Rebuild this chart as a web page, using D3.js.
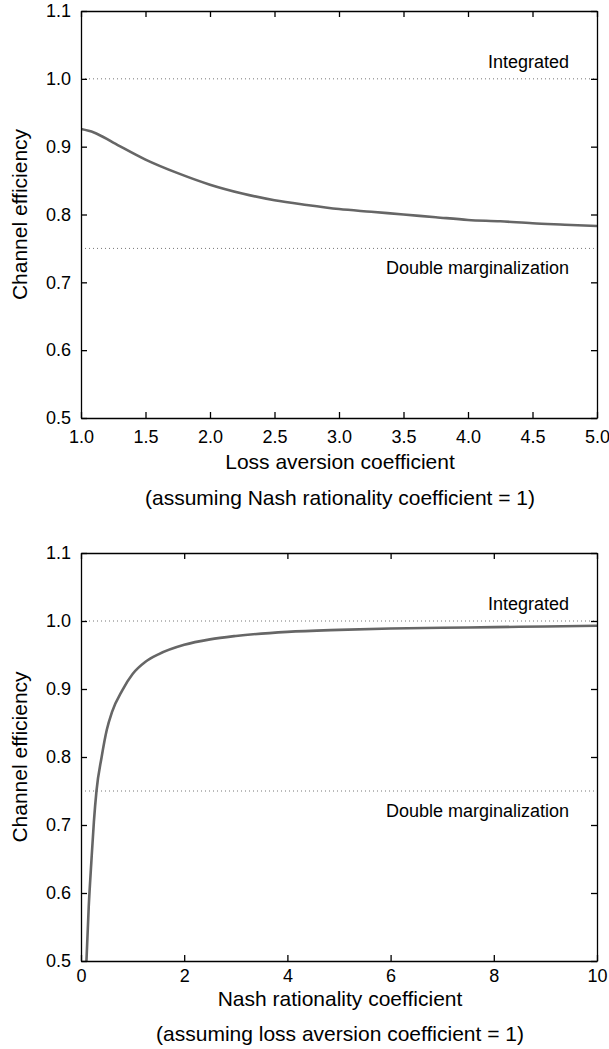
<!DOCTYPE html>
<meta charset="utf-8">
<style>
body { margin: 0; background: #fff; }
svg { display: block; font-family: "Liberation Sans", Arial, sans-serif; }
.tick text { font-size: 18px; fill: #000; }
.domain, .tick line { stroke: #000; stroke-width: 1.3px; }
.curve { fill: none; stroke: #666; stroke-width: 2.6px; }
.ref { stroke: #777; stroke-width: 1px; stroke-dasharray: 1,3; }
.label { font-size: 18px; }
.title { font-size: 21px; }
</style>
<script src="https://cdnjs.cloudflare.com/ajax/libs/d3/7.8.5/d3.min.js"></script>
<body>
<script>
// panel 1: efficiency vs loss aversion coefficient
var lossX = [1.0, 1.1, 1.25, 1.5, 1.75, 2.0, 2.25, 2.5, 2.75, 3.0, 3.25, 3.5, 3.75, 4.0, 4.25, 4.5, 4.75, 5.0];
var lossY = [0.926, 0.921, 0.906, 0.881, 0.861, 0.844, 0.831, 0.821, 0.814, 0.808, 0.804, 0.800, 0.796, 0.792, 0.790, 0.787, 0.785, 0.783];
var lossTicks = [1.0, 1.5, 2.0, 2.5, 3.0, 3.5, 4.0, 4.5, 5.0];

// panel 2: efficiency vs Nash rationality coefficient
var nashX = [0.1, 0.15, 0.2, 0.25, 0.3, 0.4, 0.5, 0.6, 0.8, 1.0, 1.25, 1.5, 2.0, 2.5, 3.0, 4.0, 5.0, 6.0, 7.0, 8.0, 9.0, 10.0];
var nashY = [0.49, 0.58, 0.645, 0.705, 0.75, 0.80, 0.84, 0.866, 0.898, 0.922, 0.94, 0.951, 0.965, 0.973, 0.978, 0.984, 0.987, 0.989, 0.990, 0.991, 0.992, 0.993];
var nashTicks = [0, 2, 4, 6, 8, 10];

var yTicks = [0.5, 0.6, 0.7, 0.8, 0.9, 1.0, 1.1];
var integrated = 1.0, doubleMarg = 0.75;

var W = 609, H = 1049;
var svg = d3.select("body").append("svg").attr("width", W).attr("height", H);

function panel(opt) {
  var left = 81, right = 597;
  var x = d3.scaleLinear().domain(opt.domain).range([left, right]);
  var y = d3.scaleLinear().domain([0.5, 1.1]).range([opt.bottom, opt.top]);
  var g = svg.append("g");

  g.append("clipPath").attr("id", opt.id).append("rect")
    .attr("x", left).attr("y", opt.top).attr("width", right - left).attr("height", opt.bottom - opt.top);

  // reference lines
  [integrated, doubleMarg].forEach(function(v) {
    g.append("line").attr("class", "ref")
      .attr("x1", left).attr("x2", right).attr("y1", y(v)).attr("y2", y(v));
  });
  g.append("text").attr("class", "label").attr("text-anchor", "end")
    .attr("x", 569).attr("y", y(integrated) - 11).text("Integrated");
  g.append("text").attr("class", "label").attr("text-anchor", "end")
    .attr("x", 569).attr("y", y(doubleMarg) + 26).text("Double marginalization");

  // curve
  var pts = opt.xs.map(function(d, i) { return [d, opt.ys[i]]; });
  g.append("path").attr("class", "curve").attr("clip-path", "url(#" + opt.id + ")")
    .attr("d", d3.line().x(function(d) { return x(d[0]); }).y(function(d) { return y(d[1]); })
      .curve(d3.curveMonotoneX)(pts));

  // axes, ticks inward
  g.append("g").attr("transform", "translate(0," + opt.bottom + ")")
    .call(d3.axisBottom(x).tickValues(opt.ticks).tickFormat(opt.fmt).tickSizeInner(-6).tickSizeOuter(0).tickPadding(opt.pad));
  g.append("g").attr("transform", "translate(0," + opt.top + ")")
    .call(d3.axisTop(x).tickValues(opt.ticks).tickFormat("").tickSizeInner(-6).tickSizeOuter(0));
  g.append("g").attr("transform", "translate(" + left + ",0)")
    .call(d3.axisLeft(y).tickValues(yTicks).tickFormat(d3.format(".1f")).tickSizeInner(-6).tickSizeOuter(0).tickPadding(10));
  g.append("g").attr("transform", "translate(" + right + ",0)")
    .call(d3.axisRight(y).tickValues(yTicks).tickFormat("").tickSizeInner(-6).tickSizeOuter(0));

  // titles
  g.append("text").attr("class", "title").attr("text-anchor", "middle")
    .attr("transform", "translate(27," + ((opt.top + opt.bottom) / 2) + ") rotate(-90)")
    .text("Channel efficiency");
  g.append("text").attr("class", "title").attr("text-anchor", "middle")
    .attr("x", 340).attr("y", opt.bottom + opt.t1).text(opt.xTitle);
  g.append("text").attr("class", "title").attr("text-anchor", "middle")
    .attr("x", 340).attr("y", opt.bottom + opt.t2).text(opt.note);
}

panel({ id: "c1", domain: [1, 5], top: 11, bottom: 418, xs: lossX, ys: lossY, ticks: lossTicks,
  fmt: d3.format(".1f"), pad: 12, t1: 51, t2: 87,
  xTitle: "Loss aversion coefficient", note: "(assuming Nash rationality coefficient = 1)" });
panel({ id: "c2", domain: [0, 10], top: 553, bottom: 961, xs: nashX, ys: nashY, ticks: nashTicks,
  fmt: d3.format("d"), pad: 8, t1: 45, t2: 80,
  xTitle: "Nash rationality coefficient", note: "(assuming loss aversion coefficient = 1)" });
</script>
</body>
